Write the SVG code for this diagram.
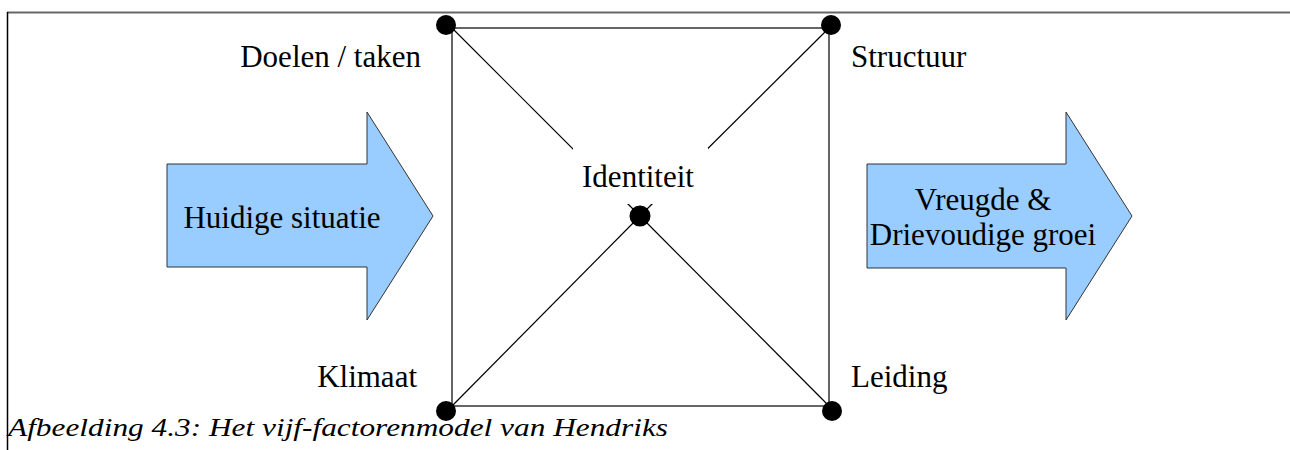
<svg xmlns="http://www.w3.org/2000/svg" width="1290" height="450" viewBox="0 0 1290 450">
<defs>
<style>
.lbl{font-family:'Liberation Serif',serif;font-size:31px;fill:#000}
.edge{stroke:#000;stroke-width:1.2;fill:none}
.dot{fill:#000}
.arrow{fill:#99ccff;stroke:#333;stroke-width:1}
.cap{font-family:'Liberation Serif',serif;font-style:italic;font-size:26px;fill:#000}
</style>
</defs>
<rect width="1290" height="450" fill="#fff"/>
<g id="frame">
<line x1="7" y1="12.5" x2="1290" y2="12.5" stroke="#666" stroke-width="2"/>
<line x1="7.5" y1="12" x2="7.5" y2="450" stroke="#000" stroke-width="1.5"/>
</g>
<g id="connectors">
<rect x="452" y="28" width="377" height="378" class="edge"/>
<line x1="452" y1="28" x2="640" y2="216" class="edge"/>
<line x1="829" y1="28" x2="640" y2="216" class="edge"/>
<line x1="452" y1="406" x2="640" y2="216" class="edge"/>
<line x1="829" y1="406" x2="640" y2="216" class="edge"/>
</g>
<g id="arrow-left">
<polygon class="arrow" points="167,164 367,164 367,112 433,216 367,320 367,267 167,267"/>
<text class="lbl" x="282" y="228" text-anchor="middle" font-family="Liberation Serif">Huidige situatie</text>
</g>
<g id="arrow-right">
<polygon class="arrow" points="867,164 1066,164 1066,112 1132,216 1066,320 1066,268 867,268"/>
<text class="lbl" x="983" y="210" text-anchor="middle" font-family="Liberation Serif">Vreugde &amp;</text>
<text class="lbl" x="983" y="245" text-anchor="middle" font-family="Liberation Serif">Drievoudige groei</text>
</g>
<g id="node-identiteit">
<rect x="573" y="148" width="135" height="56" fill="#fff"/>
<text class="lbl" x="638" y="187" text-anchor="middle" font-family="Liberation Serif">Identiteit</text>
<circle class="dot" cx="640" cy="216" r="10.5"/>
</g>
<g id="node-doelen">
<circle class="dot" cx="446" cy="25" r="10"/>
<text class="lbl" x="421" y="67" text-anchor="end" font-family="Liberation Serif">Doelen / taken</text>
</g>
<g id="node-structuur">
<circle class="dot" cx="831" cy="25" r="10"/>
<text class="lbl" x="851" y="67" font-family="Liberation Serif">Structuur</text>
</g>
<g id="node-klimaat">
<circle class="dot" cx="446" cy="411" r="10"/>
<text class="lbl" x="417" y="387" text-anchor="end" font-family="Liberation Serif">Klimaat</text>
</g>
<g id="node-leiding">
<circle class="dot" cx="832" cy="411" r="10"/>
<text class="lbl" x="851" y="387" font-family="Liberation Serif">Leiding</text>
</g>
<g id="caption">
<text class="cap" x="8" y="436" textLength="660" lengthAdjust="spacingAndGlyphs" font-family="Liberation Serif">Afbeelding 4.3: Het vijf-factorenmodel van Hendriks</text>
</g>
</svg>
